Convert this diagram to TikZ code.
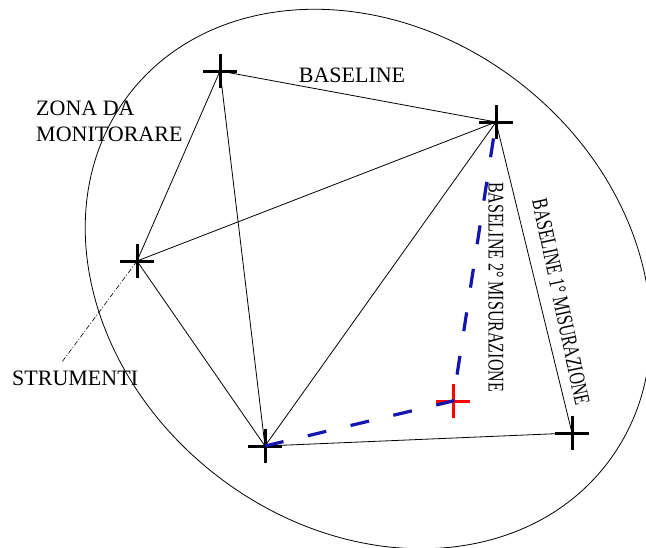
\documentclass[tikz,border=0pt]{standalone}
\usepackage{fontspec}
\setmainfont{Liberation Serif}
\begin{document}
\begin{tikzpicture}[x=1pt,y=-1pt,
  thinline/.style={line width=0.8pt,black},
  blued/.style={line width=3.2pt,color={rgb,255:red,20;green,20;blue,175},dash pattern=on 19pt off 25pt},
  lbl/.style={font=\fontsize{22}{26}\selectfont,inner sep=0pt},
  vlbl/.style={inner sep=0pt},
  plusmark/.pic={\draw[line width=3pt,#1] (-17pt,0)--(17pt,0) (0,-17pt)--(0,17pt);},
  plusmark/.default=black]
\useasboundingbox (0,0) rectangle (646,547);
% ellipse (zone)
\draw[line width=0.8pt,rotate around={-38:(368,279)}] (368,279) ellipse [x radius=302pt, y radius=248pt];
% points
\coordinate (A) at (220,71);
\coordinate (B) at (496,122);
\coordinate (C) at (137,261);
\coordinate (D) at (265,446);
\coordinate (E) at (572,433);
\coordinate (F) at (453,401);
\coordinate (S) at (62,362);
% baselines
\draw[thinline] (A) -- (B);
\draw[thinline] (A) -- (C);
\draw[thinline] (A) -- (D);
\draw[thinline] (B) -- (C);
\draw[thinline] (B) -- (D);
\draw[thinline] (B) -- (E);
\draw[thinline] (C) -- (D);
\draw[thinline] (D) -- (E);
\draw[line width=0.6pt,dash pattern=on 5pt off 2pt on 1pt off 2pt] (C) -- (S);
% crosses
\pic at (A) {plusmark};
\pic at (B) {plusmark};
\pic at (C) {plusmark};
\pic at (D) {plusmark};
\pic at (E) {plusmark};
\pic at (F) {plusmark=red};
% second measurement
\draw[blued] (D) -- (F) -- (B);
% labels
\node[lbl,anchor=west,align=left] (zona) at (36,121) {ZONA DA\\MONITORARE};
\node[lbl] (bl) at (352,75) {BASELINE};
\node[lbl,anchor=west] (str) at (12,378) {STRUMENTI};
\node[vlbl,rotate=-90] (b2) at (496,287) {\scalebox{1}[1.4]{\fontsize{16}{16}\selectfont BASELINE 2° MISURAZIONE}};
\node[vlbl,rotate=-78] (b1) at (561,302) {\scalebox{1}[1.4]{\fontsize{16}{16}\selectfont BASELINE 1° MISURAZIONE}};
\end{tikzpicture}
\end{document}
